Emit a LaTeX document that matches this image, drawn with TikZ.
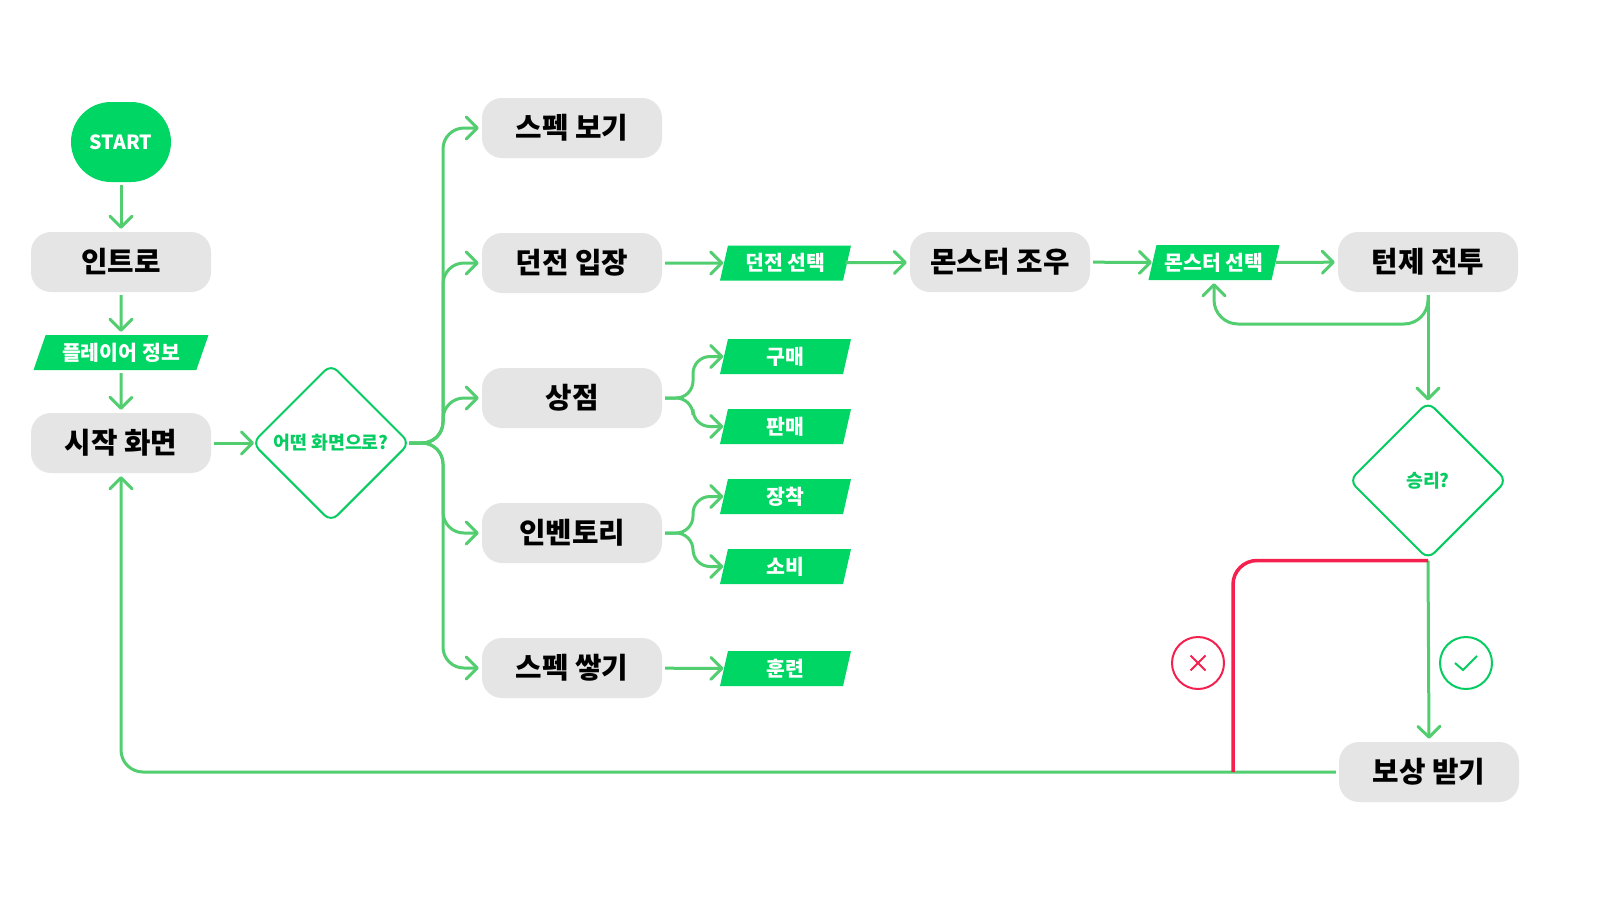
\documentclass[tikz,border=0pt]{standalone}
\usepackage{fontspec}
\setmainfont{Noto Sans CJK KR}
\usetikzlibrary{arrows.meta,shapes.geometric,calc}
\definecolor{gfill}{HTML}{00D664}
\definecolor{gline}{HTML}{52CE71}
\definecolor{gdia}{HTML}{06CC62}
\definecolor{gbox}{HTML}{E5E5E5}
\definecolor{redl}{HTML}{F4214F}
\tikzset{
  barb/.tip={Straight Barb[length=11pt,width=22pt,round]},
  boxn/.style={fill=gbox,rounded corners=20pt,minimum width=180pt,minimum height=60pt,inner sep=0pt,
    font=\fontsize{28.8}{32}\selectfont\bfseries,text=black,text height=20.5pt,text depth=0pt},
  startn/.style={fill=gfill,rounded corners=40pt,minimum width=100pt,minimum height=80pt,inner sep=0pt,
    font=\fontsize{19.5}{24}\selectfont\bfseries,text=white},
  data/.style={trapezium,trapezium stretches body=true,fill=gfill,trapezium left angle=62,trapezium right angle=118,
    minimum width=131pt,minimum height=35pt,inner sep=0pt,
    font=\fontsize{20.5}{24}\selectfont\bfseries,text=white,text height=15pt,text depth=0pt},
  datawide/.style={data,trapezium left angle=51,trapezium right angle=129,minimum width=175pt},
  dec/.style={diamond,draw=gdia,line width=2pt,rounded corners=9pt,fill=white,minimum width=158pt,minimum height=158pt,
    aspect=1,inner sep=0pt,font=\fontsize{18.3}{22}\selectfont\bfseries,text=gdia,text height=13pt,text depth=0pt},
  conn/.style={draw=gline,line width=3pt,-{barb},shorten >=3pt,shorten <=3pt},
  todata/.style={conn,shorten >=0.5pt},
  badred/.style={draw=redl,line width=3.5pt},
  badge/.style={circle,line width=2pt,minimum size=52pt,inner sep=0pt},
}
\begin{document}
\begin{tikzpicture}[x=1pt,y=-1pt]
\useasboundingbox (0,0) rectangle (1600,900);
\fill[white] (0,0) rectangle (1600,900);
% nodes
\node[startn] (start) at (121,142) {START};
\node[boxn] (intro) at (121,262) {인트로};
\node[datawide] (pinfo) at (121,352.5) {플레이어 정보};
\node[boxn] (home) at (121,443) {시작 화면};
\node[dec] (q1) at (331,443) {어떤 화면으로?};
\node[boxn] (spec) at (572,128) {스펙 보기};
\node[boxn] (dun) at (572,263) {던전 입장};
\node[boxn] (shop) at (572,398) {상점};
\node[boxn] (inv) at (572,533) {인벤토리};
\node[boxn] (train) at (572,668) {스펙 쌓기};
\node[data] (dsel) at (785.5,263) {던전 선택};
\node[data] (buy) at (785.5,356.5) {구매};
\node[data] (sell) at (785.5,426.5) {판매};
\node[data] (equip) at (785.5,496.5) {장착};
\node[data] (use) at (785.5,566.5) {소비};
\node[data] (drill) at (785.5,668.5) {훈련};
\node[boxn] (meet) at (1000,262) {몬스터 조우};
\node[data] (msel) at (1214,262.5) {몬스터 선택};
\node[boxn] (turn) at (1428,262) {턴제 전투};
\node[dec] (q2) at (1428,480.5) {승리?};
\node[boxn] (reward) at (1429,772) {보상 받기};
\node[badge,draw=redl] (nob) at (1198,663) {};
\node[badge,draw=gdia] (yesb) at (1466,663) {};
% helper coordinates
\coordinate (tr) at (443,300);
\coordinate (trs) at (693,300);
\coordinate (loop) at (1300,324);
\coordinate (redend) at (1233,772);
% connectors
\draw[conn] (start) -- (intro);
\draw[conn] (intro) -- (pinfo);
\draw[conn] (pinfo) -- (home);
\draw[conn,shorten >=-3pt] (home) -- (q1);
\begin{scope}[rounded corners=21pt]
\draw[conn,shorten <=-2pt] (q1.east) -- (tr |- q1.east) -- (tr |- spec.west) -- (spec.west);
\draw[conn,shorten <=-2pt] (q1.east) -- (tr |- q1.east) -- (tr |- dun.west) -- (dun.west);
\draw[conn,shorten <=-2pt] (q1.east) -- (tr |- q1.east) -- (tr |- shop.west) -- (shop.west);
\draw[conn,shorten <=-2pt] (q1.east) -- (tr |- q1.east) -- (tr |- inv.west) -- (inv.west);
\draw[conn,shorten <=-2pt] (q1.east) -- (tr |- q1.east) -- (tr |- train.west) -- (train.west);
\end{scope}
\draw[todata] (dun) -- (dsel);
\draw[conn,shorten <=-2pt] (dsel) -- (meet);
\draw[todata] (meet) -- (msel);
\draw[conn,shorten <=0pt] (msel) -- (turn);
\begin{scope}[rounded corners=17pt]
\draw[todata] (shop.east) -- (trs |- shop.east) -- (trs |- buy.west) -- (buy.west);
\draw[todata] (shop.east) -- (trs |- shop.east) -- (trs |- sell.west) -- (sell.west);
\draw[todata] (inv.east) -- (trs |- inv.east) -- (trs |- equip.west) -- (equip.west);
\draw[todata] (inv.east) -- (trs |- inv.east) -- (trs |- use.west) -- (use.west);
\end{scope}
\draw[todata] (train) -- (drill);
\draw[conn,shorten >=0pt] (turn.south) -- (q2.north);
\draw[conn,rounded corners=24pt] (turn.south) |- (loop) -| (msel.south);
\draw[conn,shorten <=0pt] (q2.south) -- (reward.north);
\draw[conn,rounded corners=22pt] (reward.west) -| (home.south);
\draw[badred,rounded corners=24pt] (q2.south) -| (redend);
% badge marks
\draw[redl,line width=2pt] ($(nob)+(-7.5,-7.5)$) -- ($(nob)+(7.5,7.5)$) ($(nob)+(7.5,-7.5)$) -- ($(nob)+(-7.5,7.5)$);
\draw[gdia,line width=2pt] ($(yesb)+(-11,0)$) -- ($(yesb)+(-3,7)$) -- ($(yesb)+(11,-7)$);
\end{tikzpicture}
\end{document}
